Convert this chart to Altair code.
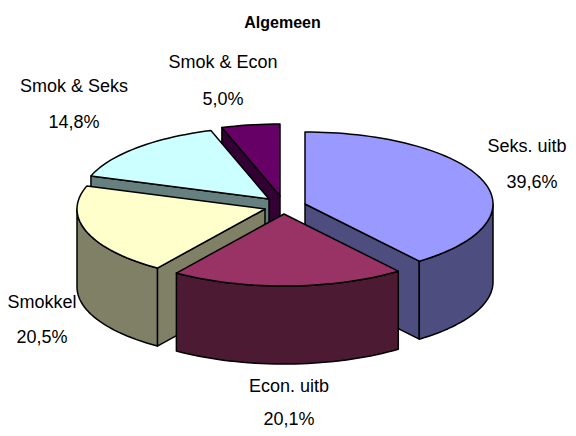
import math
import altair as alt

# --- chart values -----------------------------------------------------
categories = ["Seks. uitb", "Econ. uitb", "Smokkel", "Smok & Seks", "Smok & Econ"]
shares = [39.6, 20.1, 20.5, 14.8, 5.0]
percent_labels = ["39,6%", "20,1%", "20,5%", "14,8%", "5,0%"]
top_colors = ["#9999FF", "#993366", "#FFFFCC", "#CCFFFF", "#660066"]
side_colors = ["#4D4D80", "#4D1A33", "#808066", "#668080", "#330033"]

# --- layout (page pixels) ---------------------------------------------
apex_x = [305, 284, 265, 269, 280]
apex_y = [204, 214, 209, 199, 196]
label_x = [527, 289, 42, 74, 223]
percent_x = [532, 289, 42, 74, 223]
label_y = [147, 387, 303, 87, 63]
percent_y = [183, 420, 338, 123, 100]
RX, RY, DEPTH = 188, 72, 78
PAGE = 8
draw_order = [4, 3, 0, 2, 1]  # back to front


def rim(i, t):
    return [apex_x[i] + RX * math.sin(t), apex_y[i] - RY * math.cos(t)]


def arc(i, a, b):
    n = max(2, int(abs(b - a) / math.radians(2)))
    return [rim(i, a + (b - a) * k / n) for k in range(n + 1)]


def down(points):
    return [[x, y + DEPTH] for x, y in points]


def feature(points, fill):
    ring = points + [points[0]]
    return {
        "type": "Feature",
        "properties": {"fill": fill},
        "geometry": {"type": "Polygon", "coordinates": [ring]},
    }


total = sum(shares)
starts = []
acc = 0.0
for s in shares:
    starts.append(acc)
    acc += s

features = []
for i in draw_order:
    a = 2 * math.pi * starts[i] / total
    b = 2 * math.pi * (starts[i] + shares[i]) / total
    apex = [apex_x[i], apex_y[i]]
    side, top = side_colors[i], top_colors[i]
    # visible radial walls
    if math.sin(a) < -1e-9:
        e = [apex, rim(i, a)]
        features.append(feature(e + down(e)[::-1], side))
    if math.sin(b) > 1e-9:
        e = [apex, rim(i, b)]
        features.append(feature(e + down(e)[::-1], side))
    # visible outer wall (front half of the rim)
    lo, hi = max(a, math.pi / 2), min(b, 3 * math.pi / 2)
    if hi > lo:
        e = arc(i, lo, hi)
        features.append(feature(e + down(e)[::-1], side))
    # top face
    features.append(feature([apex] + arc(i, a, b), top))

pie = (
    alt.Chart(alt.Data(values=features))
    .mark_geoshape(stroke="#000000", strokeWidth=1.5, strokeJoin="round")
    .encode(fill=alt.Color("properties.fill:N", scale=None))
    .project(type="identity", scale=1, translate=[-PAGE, -PAGE])
)

rows = []
for i in range(5):
    rows.append({"t": categories[i], "x": label_x[i] - PAGE, "y": label_y[i] - PAGE})
    rows.append({"t": percent_labels[i], "x": percent_x[i] - PAGE, "y": percent_y[i] - PAGE})

labels = (
    alt.Chart(alt.Data(values=rows))
    .mark_text(font="Liberation Sans", fontSize=18, color="#000000", align="center", baseline="middle")
    .encode(x=alt.X("x:Q", scale=None), y=alt.Y("y:Q", scale=None), text="t:N")
)

title = (
    alt.Chart(alt.Data(values=[{"t": "Algemeen", "x": 282.5 - PAGE, "y": 23 - PAGE}]))
    .mark_text(font="Liberation Sans", fontSize=16, fontWeight="bold", color="#000000", align="center", baseline="middle")
    .encode(x=alt.X("x:Q", scale=None), y=alt.Y("y:Q", scale=None), text="t:N")
)

chart = (
    alt.layer(pie, labels, title)
    .properties(width=560, height=420, padding=0, autosize=alt.AutoSizeParams(type="none"))
    .configure_view(stroke=None)
)
chart.save("out.html", embed_options={"renderer": "svg", "actions": False})
